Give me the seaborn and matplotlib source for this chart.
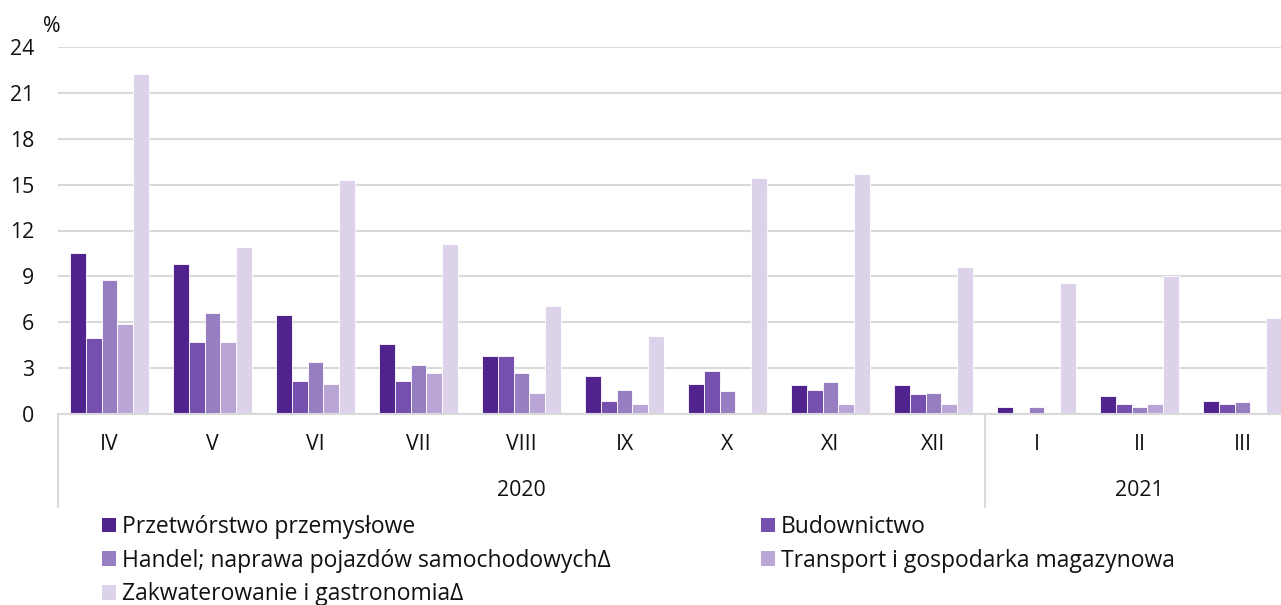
import numpy as np
import pandas as pd
import seaborn as sns
import matplotlib.pyplot as plt
from matplotlib.patches import Patch

# Miesiące i lata
months = ["IV", "V", "VI", "VII", "VIII", "IX", "X", "XI", "XII", "I", "II", "III"]
years = ["2020"] * 9 + ["2021"] * 3

series = [
    "Przetwórstwo przemysłowe",
    "Budownictwo",
    "Handel; naprawa pojazdów samochodowychΔ",
    "Transport i gospodarka magazynowa",
    "Zakwaterowanie i gastronomiaΔ",
]
colors = ["#51238F", "#7550AE", "#977DC2", "#B9A6D6", "#DCD3EA"]

przetworstwo = [10.5, 9.8, 6.5, 4.6, 3.8, 2.5, 2.0, 1.9, 1.9, 0.5, 1.2, 0.9]
budownictwo = [5.0, 4.7, 2.2, 2.2, 3.8, 0.9, 2.8, 1.6, 1.3, np.nan, 0.7, 0.7]
handel = [8.8, 6.6, 3.4, 3.2, 2.7, 1.6, 1.5, 2.1, 1.4, 0.5, 0.5, 0.8]
transport = [5.9, 4.7, 2.0, 2.7, 1.4, 0.7, np.nan, 0.7, 0.7, np.nan, 0.7, np.nan]
zakwaterowanie = [22.2, 10.9, 15.3, 11.1, 7.1, 5.1, 15.4, 15.7, 9.6, 8.6, 9.0, 6.3]

values = [przetworstwo, budownictwo, handel, transport, zakwaterowanie]
rows = []
for name, vals in zip(series, values):
    for m, v in zip(months, vals):
        rows.append({"miesiac": m, "sekcja": name, "wartosc": v})
df = pd.DataFrame(rows)

sns.set_style("white")
plt.rcParams["font.family"] = ["Open Sans", "DejaVu Sans"]
plt.rcParams["font.size"] = 15

W, H = 1281, 605
fig = plt.figure(figsize=(W / 100, H / 100), dpi=100)
# os wychodzi poza prawa krawedz, jak w oryginale (przyciety wykres)
x0, x1, y0, y1 = 58, 1294, 414.3, 46.7
ax = fig.add_axes([x0 / W, 1 - y0 / H, (x1 - x0) / W, (y0 - y1) / H])

sns.barplot(data=df, x="miesiac", y="wartosc", hue="sekcja", order=months,
            hue_order=series, palette=colors, saturation=1, width=0.76,
            edgecolor="white", linewidth=0.6, ax=ax, legend=False)

ax.set_xlim(-0.5, 11.5)
ax.set_ylim(0, 24)
ax.set_yticks(range(0, 25, 3))
ax.set_xlabel("")
ax.set_ylabel("")
ax.set_axisbelow(True)
ax.yaxis.grid(True, color="#D9D9D9", linewidth=1.5)
ax.xaxis.grid(False)
for s in ["top", "right", "left"]:
    ax.spines[s].set_visible(False)
ax.spines["bottom"].set_color("#D9D9D9")
ax.spines["bottom"].set_linewidth(1.5)
ax.tick_params(axis="x", length=0, pad=14.5, labelsize=15.3, colors="#111111")
ax.tick_params(axis="y", length=0, pad=17, labelsize=15.3, colors="#111111")

# linie oddzielajace lata
trans = ax.get_xaxis_transform()
ybot = (y0 - 507) / (y0 - y1)
for xv in [-0.5, 8.5]:
    ax.plot([xv, xv], [0, ybot], color="#D9D9D9", lw=1.5, transform=trans, clip_on=False)

yyear = (y0 - 491) / (y0 - y1)
ax.text(4.0, yyear, "2020", transform=trans, ha="center", va="center", fontsize=15.3, color="#111111")
ax.text(10.0, yyear, "2021", transform=trans, ha="center", va="center", fontsize=15.3, color="#111111")

fig.text(52 / W, 1 - 26 / H, "%", ha="center", va="center", fontsize=15.3, color="#111111")

handles = [Patch(facecolor=c, edgecolor="none") for c in colors]
leg_kw = dict(frameon=False, fontsize=16.5, handlelength=0.62, handleheight=0.62,
              handletextpad=0.25, labelspacing=0.42, borderaxespad=0, borderpad=0)
leg1 = fig.legend([handles[0], handles[2], handles[4]], [series[0], series[2], series[4]],
                  loc="upper left", bbox_to_anchor=(102 / W, 1 - 515 / H), **leg_kw)
leg2 = fig.legend([handles[1], handles[3]], [series[1], series[3]],
                  loc="upper left", bbox_to_anchor=(761 / W, 1 - 515 / H), **leg_kw)
for leg in (leg1, leg2):
    for t in leg.get_texts():
        t.set_color("#111111")

fig.savefig("out.png", dpi=100)
